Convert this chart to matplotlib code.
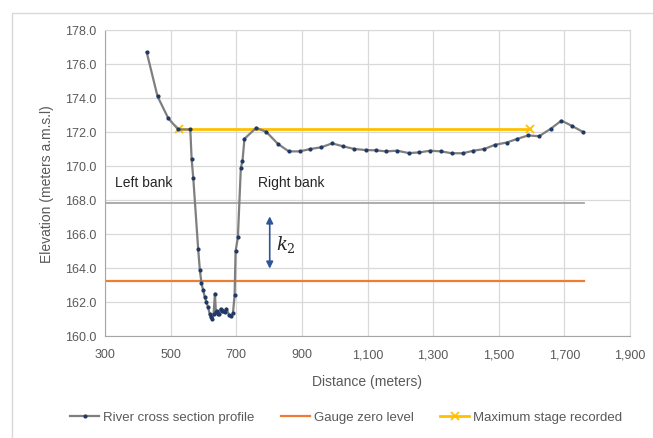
import matplotlib
matplotlib.use("Agg")
import matplotlib.pyplot as plt
from matplotlib.patches import Rectangle, FancyArrowPatch

plt.rcParams['font.family'] = ['Liberation Sans Narrow', 'Liberation Sans', 'DejaVu Sans']
plt.rcParams['mathtext.fontset'] = 'dejavuserif'

# River cross-section profile
distance = [427, 460, 493, 523, 560, 564, 569, 584, 589, 594, 599, 604, 609, 614,
            619, 622, 627, 631, 635, 638, 640, 644, 648, 652, 656, 660, 665, 670, 678,
            685, 690, 695, 698, 705, 714, 719, 725, 761, 792, 827, 860, 893, 926, 959,
            992, 1025, 1060, 1094, 1126, 1157, 1190, 1226, 1258, 1291, 1324, 1357, 1390,
            1423, 1456, 1489, 1524, 1557, 1590, 1623, 1659, 1691, 1722, 1757]
elevation = [176.7, 174.1, 172.8, 172.15, 172.15, 170.4, 169.3, 165.1, 163.9,
             163.1, 162.7, 162.3, 162.0, 161.7, 161.3, 161.1, 161.0, 161.3, 162.5, 161.4,
             161.5, 161.3, 161.3, 161.6, 161.5, 161.5, 161.4, 161.6, 161.25, 161.2, 161.35,
             162.4, 165.0, 165.8, 169.9, 170.3, 171.6, 172.25, 172.0, 171.3, 170.86, 170.86,
             171.0, 171.1, 171.33, 171.16, 171.0, 170.94, 170.92, 170.86, 170.9, 170.76,
             170.8, 170.9, 170.86, 170.75, 170.75, 170.9, 171.0, 171.25, 171.38, 171.6,
             171.8, 171.75, 172.2, 172.67, 172.37, 172.0]

gauge_x = [300, 1760]
gauge_y = [163.25, 163.25]
bank_x = [300, 1760]
bank_y = [167.8, 167.8]
maxstage_x = [525, 1595]
maxstage_y = [172.2, 172.2]

k2_top = 167.2
k2_bottom = 163.8
k2_x = 802

xticks = [300, 500, 700, 900, 1100, 1300, 1500, 1700, 1900]
xticklabels = ['300', '500', '700', '900', '1,100', '1,300', '1,500', '1,700', '1,900']
yticks = [160, 162, 164, 166, 168, 170, 172, 174, 176, 178]
yticklabels = ['%.1f' % v for v in yticks]

txt = '#595959'
fig = plt.figure(figsize=(6.53, 4.39), dpi=100)
fig.patches.append(Rectangle((12/653, -0.01), 1.0, 1 - 14/439 + 0.01, transform=fig.transFigure,
                             fill=False, edgecolor='#d9d9d9', linewidth=1.0))
ax = fig.add_axes([105/653, 1 - 337/439, 525/653, 306/439])

ax.plot(bank_x, bank_y, color='#a6a6a6', linewidth=1.3, zorder=2)
ax.plot(gauge_x, gauge_y, color='#ED7D31', linewidth=1.6, zorder=2, label='Gauge zero level')
ax.plot(maxstage_x, maxstage_y, color='#FFC000', linewidth=2.0, marker='x', markersize=6,
        markeredgewidth=1.3, zorder=3, label='Maximum stage recorded')
ax.plot(distance, elevation, color='#7f7f7f', linewidth=1.6, marker='o', markersize=2.0,
        markerfacecolor='#203864', markeredgecolor='#203864', zorder=4,
        label='River cross section profile')

arr = FancyArrowPatch((k2_x, k2_bottom), (k2_x, k2_top), arrowstyle='<|-|>', mutation_scale=10,
                      color='#2F5597', linewidth=1.2, zorder=5)
ax.add_patch(arr)
ax.text(k2_x + 20, 165.45, r'$k_2$', fontsize=13, color='#262626', va='center', ha='left')
ax.text(330, 169.05, 'Left bank', fontsize=10, color='#262626', va='center', ha='left')
ax.text(765, 169.05, 'Right bank', fontsize=10, color='#262626', va='center', ha='left')

ax.set_xlim(300, 1900)
ax.set_ylim(160, 178)
ax.set_xticks(xticks)
ax.set_xticklabels(xticklabels)
ax.set_yticks(yticks)
ax.set_yticklabels(yticklabels)
ax.tick_params(axis='y', length=0, labelsize=9, colors=txt, pad=6)
ax.tick_params(axis='x', length=0, labelsize=9, colors=txt, pad=9)
ax.grid(True, color='#d9d9d9', linewidth=0.9, zorder=0)
ax.set_axisbelow(True)
for s in ax.spines.values():
    s.set_color('#d9d9d9')
ax.spines['left'].set_color('#a6a6a6')
ax.spines['bottom'].set_color('#a6a6a6')

ax.set_xlabel('Distance (meters)', fontsize=10, color=txt, labelpad=10)
ax.set_ylabel('Elevation (meters a.m.s.l)', fontsize=10, color=txt, labelpad=8)

h, l = ax.get_legend_handles_labels()
order = [2, 0, 1]
fig.legend([h[i] for i in order], [l[i] for i in order], loc='center', ncol=3,
           bbox_to_anchor=(0.53, 1 - 418/439), frameon=False, fontsize=9.5,
           labelcolor=txt, handlelength=2.2, columnspacing=2.0, handletextpad=0.3)

fig.savefig('out.png', dpi=100)
